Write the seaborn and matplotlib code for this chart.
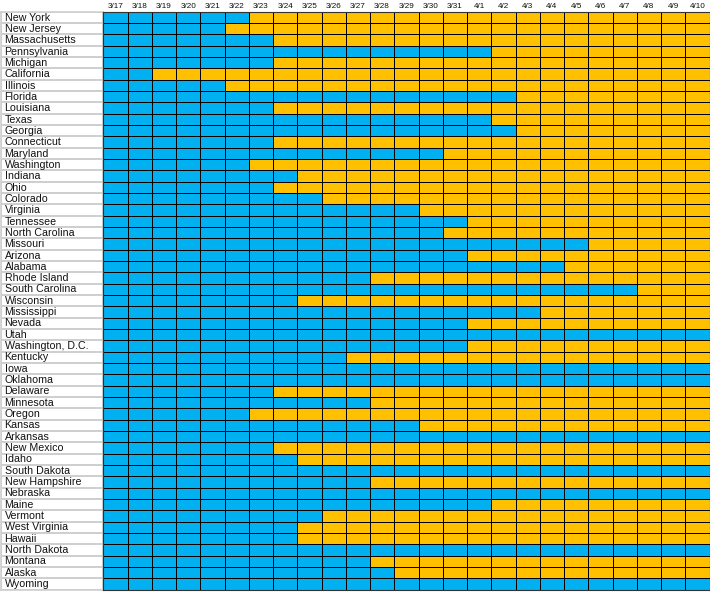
import numpy as np
import pandas as pd
import seaborn as sns
import matplotlib.pyplot as plt
from matplotlib.colors import ListedColormap

dates = ['3/17', '3/18', '3/19', '3/20', '3/21', '3/22', '3/23', '3/24', '3/25',
         '3/26', '3/27', '3/28', '3/29', '3/30', '3/31', '4/1', '4/2', '4/3',
         '4/4', '4/5', '4/6', '4/7', '4/8', '4/9', '4/10']

states = ['New York', 'New Jersey', 'Massachusetts', 'Pennsylvania', 'Michigan',
          'California', 'Illinois', 'Florida', 'Louisiana', 'Texas', 'Georgia',
          'Connecticut', 'Maryland', 'Washington', 'Indiana', 'Ohio', 'Colorado',
          'Virginia', 'Tennessee', 'North Carolina', 'Missouri', 'Arizona',
          'Alabama', 'Rhode Island', 'South Carolina', 'Wisconsin', 'Mississippi',
          'Nevada', 'Utah', 'Washington, D.C.', 'Kentucky', 'Iowa', 'Oklahoma',
          'Delaware', 'Minnesota', 'Oregon', 'Kansas', 'Arkansas', 'New Mexico',
          'Idaho', 'South Dakota', 'New Hampshire', 'Nebraska', 'Maine', 'Vermont',
          'West Virginia', 'Hawaii', 'North Dakota', 'Montana', 'Alaska', 'Wyoming']

# first day shown in orange for each state (None = blue all the way)
orange_from = ['3/23', '3/22', '3/24', '4/2', '3/24',
               '3/19', '3/22', '4/3', '3/24', '4/2', '4/3',
               '3/24', '3/31', '3/23', '3/25', '3/24', '3/26',
               '3/30', '4/1', '3/31', '4/6', '4/1',
               '4/5', '3/28', '4/8', '3/25', '4/4',
               '4/1', None, '4/1', '3/27', None, None,
               '3/24', '3/28', '3/23', '3/30', None, '3/24',
               '3/25', None, '3/28', None, '4/2', '3/26',
               '3/25', '3/25', None, '3/28', '3/29', None]

status = pd.DataFrame(0, index=states, columns=dates)
for st, d in zip(states, orange_from):
    if d is not None:
        status.loc[st, dates[dates.index(d):]] = 1

plt.rcParams['font.family'] = ['Liberation Sans', 'DejaVu Sans']

fig = plt.figure(figsize=(7.1, 5.92), dpi=100)
top = 1 - 11.7 / 592
bottom = 1 - 589.5 / 592
ax_lab = fig.add_axes([1.5 / 710, bottom, 101.5 / 710, top - bottom])
ax = fig.add_axes([103.3 / 710, bottom, 606.2 / 710, top - bottom])

# label column
lab = pd.DataFrame(0, index=states, columns=['name'])
sns.heatmap(lab, ax=ax_lab, cmap=ListedColormap(['white']), cbar=False,
            linewidths=1.4, linecolor='#cfcfcf', xticklabels=False, yticklabels=False)
for i, st in enumerate(states):
    ax_lab.text(0.03, i + 0.52, st, ha='left', va='center', fontsize=7.7, color='#111111')
for s in ax_lab.spines.values():
    s.set_visible(True)
    s.set_color('#cfcfcf')
    s.set_linewidth(1.2)

# status grid
sns.heatmap(status, ax=ax, cmap=ListedColormap(['#00B0F0', '#FFC000']), cbar=False,
            linewidths=0.7, linecolor='black', yticklabels=False, vmin=0, vmax=1)
ax.xaxis.tick_top()
ax.set_xticklabels(dates, fontsize=5.9, rotation=0, color='#111111')
ax.tick_params(axis='x', length=0, pad=1.5)
ax.set_xlabel('')
ax.set_ylabel('')
for s in ax.spines.values():
    s.set_visible(True)
    s.set_color('#333333')
    s.set_linewidth(0.8)

fig.savefig('out.png', dpi=100)
